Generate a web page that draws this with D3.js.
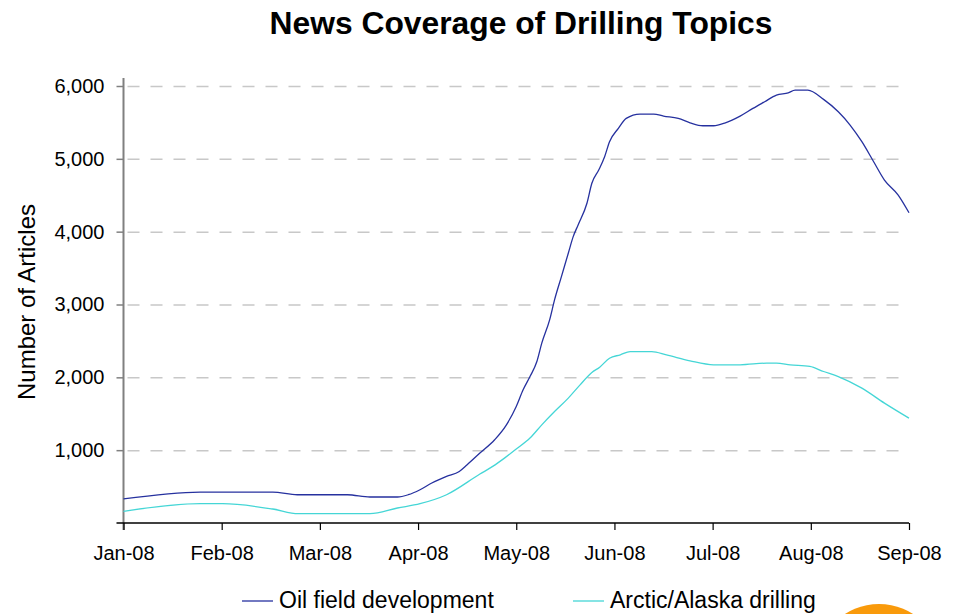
<!DOCTYPE html>
<html>
<head>
<meta charset="utf-8">
<script src="https://cdn.jsdelivr.net/npm/d3@7"></script>
<style>
  body { margin: 0; background: #fff; }
  text { font-family: "Liberation Sans", Arial, sans-serif; }
</style>
</head>
<body>
<script>
// month labels on the x axis, equally spaced (one slot per month)
const months = ["Jan-08", "Feb-08", "Mar-08", "Apr-08", "May-08", "Jun-08", "Jul-08", "Aug-08", "Sep-08"];
const yTicks = [1000, 2000, 3000, 4000, 5000, 6000];

// positions in months since Jan-08
const oilT = [0, 0.78, 1.0, 1.52, 1.77, 2.28, 2.51, 2.79, 2.9, 3.02, 3.14, 3.29, 3.42, 3.5, 3.63, 3.78, 3.9, 4.0, 4.07, 4.14, 4.21, 4.26, 4.34, 4.39, 4.46, 4.53, 4.58, 4.63, 4.72, 4.77, 4.84, 4.9, 4.95, 5.04, 5.12, 5.26, 5.4, 5.5, 5.65, 5.77, 5.9, 6.01, 6.13, 6.28, 6.41, 6.53, 6.65, 6.77, 6.84, 6.97, 7.13, 7.28, 7.4, 7.52, 7.64, 7.75, 7.89, 8.0];
const oilV = [330, 425, 425, 425, 388, 388, 357, 357, 388, 457, 549, 640, 708, 800, 960, 1143, 1348, 1600, 1829, 2011, 2217, 2469, 2789, 3063, 3383, 3704, 3932, 4092, 4390, 4664, 4846, 5029, 5235, 5418, 5555, 5615, 5615, 5587, 5555, 5495, 5454, 5454, 5495, 5587, 5692, 5784, 5875, 5907, 5944, 5944, 5816, 5646, 5464, 5235, 4960, 4709, 4503, 4260];

const arcticT = [0, 0.78, 1.01, 1.52, 1.78, 2.51, 2.79, 3.02, 3.29, 3.63, 3.76, 3.88, 4.0, 4.14, 4.26, 4.39, 4.53, 4.65, 4.77, 4.85, 4.95, 5.06, 5.16, 5.38, 5.53, 5.77, 6.01, 6.28, 6.55, 6.65, 6.79, 6.99, 7.13, 7.28, 7.52, 7.75, 8.0];
const arcticV = [160, 265, 265, 192, 128, 128, 206, 265, 388, 672, 777, 891, 1015, 1166, 1348, 1531, 1715, 1897, 2066, 2140, 2263, 2309, 2354, 2354, 2309, 2226, 2172, 2172, 2195, 2195, 2172, 2149, 2080, 2011, 1852, 1646, 1440];

const seriesNames = ["Oil field development", "Arctic/Alaska drilling"];
const colors = ["#26319f", "#45d6d6"];

const width = 962, height = 614;
const margin = {top: 86, right: 53, bottom: 91, left: 123.5};

const svg = d3.select("body").append("svg")
    .attr("width", width)
    .attr("height", height)
    .attr("viewBox", [0, 0, width, height]);

const x = d3.scaleLinear()
    .domain([0, months.length - 1])
    .range([margin.left, width - margin.right]);

const y = d3.scaleLinear()
    .domain([0, 6000])
    .range([height - margin.bottom, margin.top]);

// title
svg.append("text")
    .attr("x", 521)
    .attr("y", 34)
    .attr("text-anchor", "middle")
    .attr("font-size", 31.8)
    .attr("font-weight", "bold")
    .text("News Coverage of Drilling Topics");

// dashed gridlines + y axis
svg.append("g")
    .attr("transform", `translate(${margin.left},0)`)
    .call(d3.axisLeft(y).tickValues(yTicks).tickSize(7).tickPadding(12).tickFormat(d3.format(",")))
    .call(g => g.select(".domain").remove())
    .call(g => g.selectAll(".tick line").attr("stroke", "#808080").attr("stroke-width", 1.5))
    .call(g => g.selectAll(".tick text").attr("font-size", 20).attr("fill", "#000")
        .attr("font-family", "Liberation Sans, Arial, sans-serif"))
    .call(g => g.selectAll(".tick").append("line")
        .attr("x1", 4)
        .attr("x2", width - margin.right - margin.left)
        .attr("stroke", "#c8c8c8")
        .attr("stroke-width", 1.5)
        .attr("stroke-dasharray", "12,11"));

svg.append("line")
    .attr("x1", margin.left).attr("x2", margin.left)
    .attr("y1", 78).attr("y2", height - margin.bottom + 7)
    .attr("stroke", "#808080")
    .attr("stroke-width", 2);

// x axis
svg.append("g")
    .attr("transform", `translate(0,${height - margin.bottom})`)
    .call(d3.axisBottom(x).tickValues(d3.range(months.length))
        .tickFormat(i => months[i]).tickSize(7).tickSizeOuter(0).tickPadding(16))
    .call(g => g.select(".domain").attr("d", `M${margin.left - 7},0H${width - margin.right}`)
        .attr("stroke", "#000").attr("stroke-width", 1.5))
    .call(g => g.selectAll(".tick line").attr("stroke", "#000").attr("stroke-width", 1.2))
    .call(g => g.selectAll(".tick text").attr("font-size", 20).attr("fill", "#000")
        .attr("font-family", "Liberation Sans, Arial, sans-serif"));

// y axis title
svg.append("text")
    .attr("transform", `translate(35,302) rotate(-90)`)
    .attr("text-anchor", "middle")
    .attr("font-size", 24)
    .text("Number of Articles");

// lines
const line = d3.line()
    .x(d => x(d[0]))
    .y(d => y(d[1]))
    .curve(d3.curveMonotoneX);

const series = [d3.zip(oilT, oilV), d3.zip(arcticT, arcticV)];

svg.append("g")
  .selectAll("path")
  .data(series)
  .join("path")
    .attr("fill", "none")
    .attr("stroke", (d, i) => colors[i])
    .attr("stroke-width", 1.3)
    .attr("d", line);

// legend
const legendX = [242, 573];
const legend = svg.append("g")
  .selectAll("g")
  .data(seriesNames)
  .join("g")
    .attr("transform", (d, i) => `translate(${legendX[i]},601)`);

legend.append("line")
    .attr("x2", 31)
    .attr("stroke", (d, i) => colors[i])
    .attr("stroke-width", 1.3);

legend.append("text")
    .attr("x", 37)
    .attr("y", 7)
    .attr("font-size", 23)
    .text(d => d);

// orange badge peeking in at the bottom right
svg.append("circle")
    .attr("cx", 879)
    .attr("cy", 667)
    .attr("r", 63)
    .attr("fill", "#f99a0b");
</script>
</body>
</html>
